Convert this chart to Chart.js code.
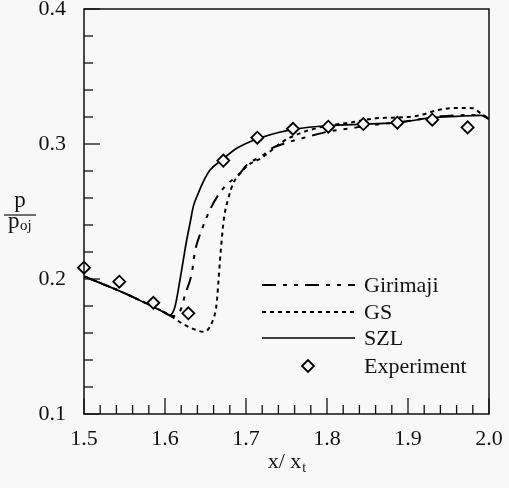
<!DOCTYPE html>
<html><head><meta charset="utf-8">
<script src="https://cdn.jsdelivr.net/npm/chart.js@4.4.1/dist/chart.umd.min.js"></script>
<style>html,body{margin:0;padding:0;background:#f8f8f8;}#wrap{width:509px;height:488px;}</style>
</head><body><div id="wrap"><canvas id="c" width="509" height="488"></canvas></div>
<script>
// ---- data ----
const seriesNames = ['Girimaji', 'GS', 'SZL', 'Experiment'];
const xTickLabels = ['1.5', '1.6', '1.7', '1.8', '1.9', '2.0'];
const yTickLabels = ['0.1', '0.2', '0.3', '0.4'];

const szlX = [1.5, 1.55, 1.58, 1.6, 1.606, 1.6123, 1.6185, 1.6226, 1.6268, 1.6309, 1.6349, 1.6411, 1.6473, 1.6556, 1.67, 1.6885, 1.7049, 1.72, 1.74, 1.76, 1.8, 1.85, 1.89, 1.93, 1.96, 1.99, 2.0];
const szlY = [0.202, 0.1895, 0.181, 0.175, 0.1733, 0.1795, 0.1993, 0.2141, 0.2289, 0.2413, 0.2536, 0.2635, 0.2721, 0.2807, 0.2881, 0.2968, 0.3017, 0.305, 0.3085, 0.311, 0.3135, 0.3148, 0.316, 0.3195, 0.3205, 0.3212, 0.3185];

const girX = [1.5, 1.55, 1.58, 1.6, 1.608, 1.615, 1.62, 1.6247, 1.633, 1.637, 1.6453, 1.6564, 1.672, 1.6926, 1.7008, 1.7214, 1.7296, 1.748, 1.7707, 1.8, 1.83, 1.85, 1.9, 1.94, 1.99, 2.0];
const girY = [0.202, 0.1895, 0.181, 0.175, 0.1725, 0.1735, 0.178, 0.1881, 0.2042, 0.2202, 0.2363, 0.2524, 0.2672, 0.2783, 0.2844, 0.2919, 0.2961, 0.3005, 0.3045, 0.309, 0.3117, 0.3135, 0.317, 0.3205, 0.3215, 0.3185];

const gsX = [1.5, 1.55, 1.58, 1.6, 1.61, 1.6206, 1.633, 1.6473, 1.6576, 1.6638, 1.6658, 1.6679, 1.67, 1.6728, 1.6782, 1.6843, 1.6947, 1.7028, 1.72, 1.746, 1.7667, 1.779, 1.8, 1.83, 1.86, 1.88, 1.91, 1.94, 1.96, 1.98, 1.99, 2.0];
const gsY = [0.202, 0.1895, 0.181, 0.175, 0.1715, 0.1672, 0.1635, 0.161, 0.1672, 0.182, 0.1968, 0.2141, 0.2289, 0.245, 0.2598, 0.2709, 0.2795, 0.2844, 0.29, 0.302, 0.3079, 0.3104, 0.3135, 0.316, 0.319, 0.3195, 0.3207, 0.3255, 0.3267, 0.3265, 0.3225, 0.319];

const expX = [1.5, 1.5436, 1.5856, 1.6288, 1.672, 1.714, 1.758, 1.8016, 1.8448, 1.8868, 1.930, 1.9736];
const expY = [0.2084, 0.198, 0.1824, 0.1746, 0.2877, 0.3047, 0.3113, 0.3128, 0.3148, 0.3158, 0.318, 0.3123];

// ---- helpers ----
const toPts = (xs, ys) => xs.map((x, i) => ({x: x, y: ys[i]}));
const BG = '#f8f8f8';
const INK = '#111111';
const SERIF = '"Liberation Serif", "DejaVu Serif", serif';

const bgPlugin = {
  id: 'bg',
  beforeDraw(chart) {
    const ctx = chart.ctx;
    ctx.save();
    ctx.fillStyle = BG;
    ctx.fillRect(0, 0, chart.width, chart.height);
    ctx.restore();
  }
};

const isMajor = v => Math.abs(Math.round(v * 10) - v * 10) < 1e-6;

const framePlugin = {
  id: 'frame',
  afterDatasetsDraw(chart) {
    const ctx = chart.ctx, a = chart.chartArea;
    const xs = chart.scales.x, ys = chart.scales.y;
    ctx.save();
    ctx.strokeStyle = INK;
    ctx.lineWidth = 1.5;
    ctx.strokeRect(a.left, a.top, a.right - a.left, a.bottom - a.top);
    ctx.lineWidth = 1.3;
    xs.ticks.forEach(t => {
      const px = xs.getPixelForValue(t.value);
      const len = isMajor(t.value) ? 16 : 9;
      ctx.beginPath();
      ctx.moveTo(px, a.bottom);
      ctx.lineTo(px, a.bottom - len);
      ctx.stroke();
    });
    ys.ticks.forEach(t => {
      const py = ys.getPixelForValue(t.value);
      const len = isMajor(t.value) ? 16 : 9;
      ctx.beginPath();
      ctx.moveTo(a.left, py);
      ctx.lineTo(a.left + len, py);
      ctx.stroke();
    });
    ctx.restore();
  }
};

const legendPlugin = {
  id: 'innerLegend',
  afterDatasetsDraw(chart) {
    const ctx = chart.ctx;
    const rows = [285, 312, 338, 366];
    const x0 = 262, x1 = 355, tx = 364;
    ctx.save();
    ctx.font = '22px ' + SERIF;
    ctx.fillStyle = INK;
    ctx.textBaseline = 'middle';
    seriesNames.forEach((name, i) => {
      const ds = chart.data.datasets.find(d => d.label === name);
      const y = rows[i];
      if (ds.showLine === false) {
        const cx = 308, r = ds.pointRadius;
        ctx.save();
        ctx.lineWidth = ds.borderWidth;
        ctx.strokeStyle = ds.borderColor;
        ctx.fillStyle = ds.backgroundColor;
        ctx.beginPath();
        ctx.moveTo(cx - r, y);
        ctx.lineTo(cx, y - r);
        ctx.lineTo(cx + r, y);
        ctx.lineTo(cx, y + r);
        ctx.closePath();
        ctx.fill();
        ctx.stroke();
        ctx.restore();
      } else {
        ctx.save();
        ctx.strokeStyle = ds.borderColor;
        ctx.lineWidth = ds.borderWidth;
        ctx.setLineDash(ds.borderDash || []);
        ctx.beginPath();
        ctx.moveTo(x0, y);
        ctx.lineTo(x1, y);
        ctx.stroke();
        ctx.restore();
      }
      ctx.fillText(name, tx, y + 1);
    });
    ctx.restore();
  }
};

const titlePlugin = {
  id: 'axisTitles',
  afterDraw(chart) {
    const ctx = chart.ctx, a = chart.chartArea;
    ctx.save();
    ctx.fillStyle = INK;
    ctx.strokeStyle = INK;
    ctx.textBaseline = 'alphabetic';
    ctx.font = '23px ' + SERIF;
    ctx.textAlign = 'center';
    ctx.fillText('p', 20, 207);
    ctx.lineWidth = 1.2;
    ctx.beginPath();
    ctx.moveTo(4, 215);
    ctx.lineTo(36, 215);
    ctx.stroke();
    ctx.textAlign = 'left';
    ctx.fillText('p', 8, 228);
    ctx.font = '15px ' + SERIF;
    ctx.fillText('oj', 20, 230);
    ctx.font = '22px ' + SERIF;
    const main = 'x/ x';
    const w = ctx.measureText(main).width;
    ctx.font = '14px ' + SERIF;
    const ws = ctx.measureText('t').width;
    const cx = (a.left + a.right) / 2;
    const start = cx - (w + ws) / 2;
    ctx.font = '22px ' + SERIF;
    ctx.fillText(main, start, 468);
    ctx.font = '14px ' + SERIF;
    ctx.fillText('t', start + w + 1, 472);
    ctx.restore();
  }
};

new Chart(document.getElementById('c'), {
  type: 'scatter',
  data: {
    datasets: [
      { label: 'Experiment', data: toPts(expX, expY), showLine: false, pointStyle: 'rectRot',
        pointRadius: 6, pointHoverRadius: 6, borderColor: '#000', backgroundColor: BG, borderWidth: 1.8,
        clip: false, order: 0 },
      { label: 'Girimaji', data: toPts(girX, girY), showLine: true, pointRadius: 0, borderColor: '#000',
        borderWidth: 2, borderDash: [14, 7, 4, 7, 4, 7], cubicInterpolationMode: 'monotone', order: 1 },
      { label: 'GS', data: toPts(gsX, gsY), showLine: true, pointRadius: 0, borderColor: '#000',
        borderWidth: 2, borderDash: [4, 4], cubicInterpolationMode: 'monotone', order: 1 },
      { label: 'SZL', data: toPts(szlX, szlY), showLine: true, pointRadius: 0, borderColor: '#000',
        borderWidth: 1.7, cubicInterpolationMode: 'monotone', order: 1 }
    ]
  },
  options: {
    responsive: false,
    animation: false,
    devicePixelRatio: 1,
    layout: { padding: { left: 0, right: 20, top: 9, bottom: 0 } },
    plugins: { legend: { display: false }, tooltip: { enabled: false } },
    scales: {
      x: {
        type: 'linear', min: 1.5, max: 2.0,
        grid: { display: false, drawTicks: false },
        border: { display: false },
        ticks: {
          stepSize: 0.02, autoSkip: false, maxRotation: 0, padding: 12,
          color: INK, font: { family: SERIF, size: 22 },
          callback: v => isMajor(v) ? xTickLabels[Math.round((v - 1.5) * 10)] : ''
        },
        afterFit: s => { s.height = 74; s.paddingLeft = 0; s.paddingRight = 0; }
      },
      y: {
        type: 'linear', min: 0.1, max: 0.4,
        grid: { display: false, drawTicks: false },
        border: { display: false },
        ticks: {
          stepSize: 0.02, autoSkip: false, padding: 18,
          color: INK, font: { family: SERIF, size: 22 },
          callback: v => isMajor(v) ? yTickLabels[Math.round((v - 0.1) * 10)] : ''
        },
        afterFit: s => { s.width = 84; s.paddingTop = 0; s.paddingBottom = 0; }
      }
    }
  },
  plugins: [bgPlugin, framePlugin, legendPlugin, titlePlugin]
});
</script>
</body></html>
